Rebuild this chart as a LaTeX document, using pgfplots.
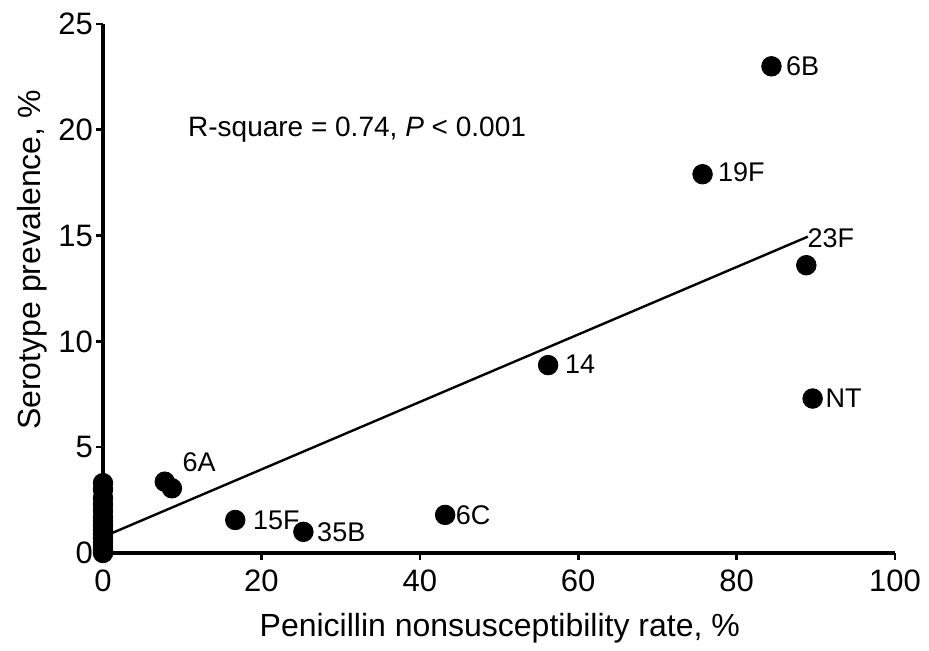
\documentclass[border=0pt]{standalone}
\usepackage{pgfplots}
\pgfplotsset{compat=1.18}
\usepackage{fontspec}
\setmainfont{Liberation Sans}

\begin{document}
\begin{tikzpicture}
\begin{axis}[
    name=ax,
    scale only axis,
    width=396pt, height=264.5pt,
    xmin=0, xmax=100, ymin=0, ymax=25,
    xtick={0,20,40,60,80,100},
    ytick={0,5,10,15,20,25},
    axis lines=left,
    axis line style={-, line width=1.6pt},
    tick style={line width=1.3pt, black},
    tick align=outside,
    major tick length=3.5pt,
    clip=false,
    /pgf/number format/assume math mode=true,
    tick label style={font=\fontsize{15.5}{16}\selectfont},
    xticklabel style={yshift=-1.5pt},
    yticklabel style={xshift=2pt},
    xlabel={Penicillin nonsusceptibility rate, \%},
    ylabel={Serotype prevalence, \%},
    every axis x label/.style={at={(axis description cs:0.501,-0.142)}, anchor=center, font=\fontsize{16}{16}\selectfont},
    every axis y label/.style={at={(axis description cs:-0.0896,0.554)}, rotate=90, anchor=center, font=\fontsize{16}{16}\selectfont},
]
% regression line
\addplot[black, line width=1.2pt] coordinates {(0,0.76) (89.0,14.95)};
% serotypes
\addplot[only marks, mark=*, mark size=4.9pt, mark options={fill=black, draw=black}] coordinates {
    (84.4,23.0) (75.7,17.9) (88.8,13.6) (89.6,7.3) (56.2,8.88)
    (43.2,1.8) (25.3,1.0) (16.7,1.56) (7.8,3.37) (8.7,3.06)
    (0,0) (0,0.15) (0,0.3) (0,0.5) (0,0.7) (0,0.9) (0,1.1) (0,1.3)
    (0,1.5) (0,1.7) (0,2.0) (0,2.3) (0,2.6) (0,3.0) (0,3.3)
};
\begin{scope}[every node/.style={anchor=west, inner sep=0pt, font=\fontsize{13.5}{14}\selectfont}]
\node at (axis cs:86.2,23.0) {6B};
\node at (axis cs:77.6,18.0) {19F};
\node at (axis cs:88.9,14.9) {23F};
\node at (axis cs:91.2,7.3) {NT};
\node at (axis cs:58.3,8.9) {14};
\node at (axis cs:44.5,1.8) {6C};
\node at (axis cs:27.0,1.0) {35B};
\node at (axis cs:18.9,1.56) {15F};
\node at (axis cs:10.0,4.3) {6A};
\node[font=\fontsize{14}{14}\selectfont] at (axis cs:10.7,20.0) {R-square = 0.74, \textit{P} < 0.001};
\end{scope}
\end{axis}
\pgfresetboundingbox
\path[use as bounding box] ([xshift=-51.5pt, yshift=-49pt]ax.south west) rectangle ([xshift=17pt, yshift=12pt]ax.north east);
\end{tikzpicture}
\end{document}
